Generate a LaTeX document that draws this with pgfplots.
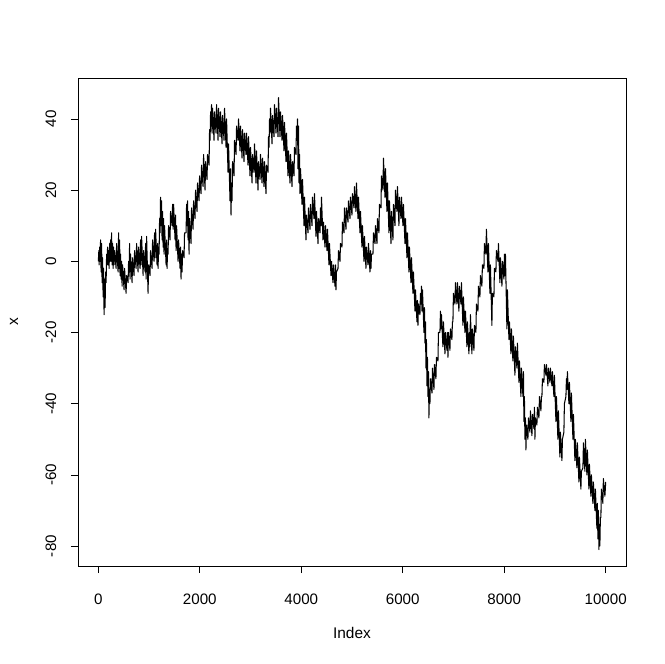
\documentclass[border=0pt]{standalone}
\usepackage{pgfplots}
\pgfplotsset{compat=1.18}
\usepackage{fontspec}
\setmainfont{Liberation Sans}
\begin{document}
\begin{tikzpicture}
\path[use as bounding box] (-78bp,-98bp) rectangle (587bp,566bp);
\begin{axis}[
  scale only axis, width=548bp, height=488bp,
  xmin=-399.96, xmax=10399.96, ymin=-85.6, ymax=51.5,
  scaled x ticks=false, scaled y ticks=false,
  xtick={0,2000,4000,6000,8000,10000},
  xticklabels={0,2000,4000,6000,8000,10000},
  ytick={-80,-60,-40,-20,0,20,40},
  yticklabels={-80,-60,-40,-20,0,20,40},
  tick align=outside, major tick length=7bp,
  xtick pos=bottom, ytick pos=left,
  tick style={black, line width=0.75bp},
  axis line style={black, line width=0.75bp},
  tick label style={font=\fontsize{15.2}{18}\selectfont, text=black},
  xticklabel style={anchor=center, yshift=-26bp},
  yticklabel style={rotate=90, anchor=center, yshift=20bp},
  label style={font=\fontsize{15.5}{18}\selectfont},
  xlabel={Index}, ylabel={x},
  xlabel style={at={(axis description cs:0.5,-0.1373)}, anchor=center},
  ylabel style={at={(axis description cs:-0.1168,0.5)}, anchor=center},
  clip=true,
]
\addplot[black, line width=1.05bp, line join=round, no markers] coordinates {
(1,0) (11,3) (16,-1) (26,4) (35,0) (45,6) (55,-3) (65,5) (75,-6) (85,1)
(95,-10) (105,-2) (114,-15) (124,-5) (134,-13) (144,-3) (154,-6) (164,2)
(173,-1) (183,4) (193,-1) (203,3) (213,-2) (223,5) (232,0) (242,6)
(252,0) (262,8) (272,-1) (282,5) (292,-2) (302,4) (311,-1) (321,3)
(351,-2) (361,5) (390,-3) (400,8) (410,-2) (420,6) (429,-4) (439,2)
(449,-5) (459,0) (469,-7) (479,-1) (508,-8) (518,-2) (548,-9) (558,-4)
(587,-6) (597,0) (607,-3) (617,5) (626,-5) (636,2) (666,-6) (676,1)
(705,-4) (715,3) (745,-2) (755,5) (784,-3) (794,4) (823,-2) (833,6)
(843,-1) (853,7) (883,-4) (893,3) (922,-3) (932,5) (942,-5) (952,7)
(981,-9) (991,-1) (1020,-4) (1030,3) (1060,-2) (1070,6) (1099,0) (1109,8)
(1119,1) (1129,9) (1158,-1) (1168,5) (1178,-2) (1188,4) (1198,2) (1208,12)
(1217,8) (1227,18) (1237,10) (1247,17) (1257,6) (1267,14) (1277,4) (1287,12)
(1296,2) (1306,10) (1336,-1) (1346,6) (1355,-2) (1365,3) (1375,2) (1385,10)
(1414,6) (1424,14) (1454,10) (1464,16) (1474,9) (1484,16) (1513,6) (1523,13)
(1533,3) (1543,10) (1572,0) (1582,6) (1611,-2) (1621,4) (1631,-5) (1641,2)
(1651,-3) (1661,3) (1690,1) (1700,8) (1730,8) (1740,16) (1749,10) (1759,17)
(1769,6) (1779,14) (1789,2) (1799,12) (1828,5) (1838,15) (1868,9) (1878,17)
(1907,12) (1917,20) (1946,14) (1956,22) (1986,17) (1996,24) (2025,19) (2035,27)
(2065,21) (2075,30) (2104,20) (2114,28) (2143,23) (2153,30) (2183,27) (2193,37)
(2203,34) (2213,42) (2222,38) (2232,44) (2242,36) (2252,43) (2281,34) (2291,42)
(2321,36) (2331,44) (2360,34) (2370,43) (2399,35) (2409,42) (2439,33) (2449,41)
(2478,34) (2488,43) (2518,32) (2528,40) (2557,25) (2567,33) (2596,17) (2606,26)
(2616,13) (2626,22) (2636,17) (2646,28) (2675,24) (2685,34) (2715,30) (2725,38)
(2754,34) (2764,40) (2793,31) (2803,38) (2833,29) (2843,37) (2872,28) (2882,36)
(2911,30) (2921,36) (2951,27) (2961,35) (2990,24) (3000,32) (3030,22) (3040,30)
(3069,25) (3079,33) (3108,22) (3118,31) (3148,20) (3158,28) (3187,23) (3197,30)
(3227,22) (3237,29) (3266,21) (3276,28) (3305,19) (3315,27) (3345,25) (3355,35)
(3365,32) (3375,40) (3384,36) (3394,43) (3424,33) (3434,41) (3463,35) (3473,44)
(3502,36) (3512,43) (3542,35) (3552,46) (3581,35) (3591,42) (3621,34) (3631,41)
(3660,31) (3670,39) (3699,28) (3709,36) (3739,24) (3749,31) (3778,22) (3788,30)
(3818,21) (3828,28) (3857,24) (3867,32) (3896,30) (3906,38) (3916,34) (3926,40)
(3936,26) (3946,38) (3956,22) (3966,30) (3975,19) (3985,26) (4015,16) (4025,23)
(4054,10) (4064,18) (4093,6) (4103,13) (4133,8) (4143,15) (4172,9) (4182,16)
(4212,10) (4222,18) (4251,12) (4261,19) (4290,7) (4300,14) (4330,5) (4340,12)
(4369,8) (4379,15) (4389,10) (4399,18) (4428,6) (4438,11) (4468,4) (4478,10)
(4507,3) (4517,9) (4546,-1) (4556,5) (4586,-4) (4596,0) (4625,-6) (4635,-1)
(4665,-7) (4675,-1) (4684,-8) (4694,-3) (4724,-2) (4734,3) (4763,0) (4773,5)
(4802,4) (4812,11) (4842,8) (4852,15) (4881,9) (4891,15) (4921,11) (4931,17)
(4960,12) (4970,18) (4999,13) (5009,19) (5039,15) (5049,21) (5078,14) (5088,22)
(5118,12) (5128,18) (5157,8) (5167,14) (5196,4) (5206,10) (5236,0) (5246,7)
(5275,-2) (5285,4) (5315,-1) (5325,5) (5354,-3) (5364,3) (5374,-2) (5384,2)
(5413,2) (5423,8) (5453,5) (5463,10) (5492,5) (5502,12) (5531,8) (5541,16)
(5571,15) (5581,24) (5610,20) (5620,29) (5650,18) (5660,26) (5689,14) (5699,22)
(5728,8) (5738,17) (5768,5) (5778,14) (5807,6) (5817,16) (5847,10) (5857,20)
(5886,14) (5896,21) (5925,10) (5935,18) (5965,12) (5975,18) (6004,10) (6014,16)
(6044,5) (6054,12) (6083,1) (6093,8) (6122,-3) (6132,4) (6162,-6) (6172,1)
(6201,-9) (6211,-3) (6241,-14) (6251,-8) (6280,-17) (6290,-11) (6300,-18) (6310,-12)
(6339,-15) (6349,-9) (6359,-12) (6369,-7) (6379,-14) (6389,-8) (6418,-20) (6428,-13)
(6438,-23) (6448,-17) (6457,-30) (6467,-22) (6477,-35) (6487,-27) (6497,-38) (6507,-31)
(6516,-44) (6526,-36) (6536,-40) (6546,-33) (6576,-37) (6586,-30) (6615,-36) (6625,-29)
(6654,-33) (6664,-27) (6694,-28) (6704,-20) (6733,-20) (6743,-14) (6753,-19) (6763,-15)
(6792,-24) (6802,-17) (6832,-26) (6842,-20) (6871,-25) (6881,-20) (6891,-27) (6901,-20)
(6930,-25) (6940,-19) (6969,-22) (6979,-17) (6989,-17) (6999,-9) (7029,-12) (7039,-6)
(7068,-12) (7078,-6) (7107,-14) (7117,-7) (7147,-12) (7157,-6) (7186,-18) (7196,-10)
(7226,-20) (7236,-14) (7265,-24) (7275,-17) (7304,-26) (7314,-20) (7324,-24) (7334,-15)
(7363,-26) (7373,-19) (7403,-25) (7413,-18) (7442,-20) (7452,-12) (7482,-14) (7492,-7)
(7521,-10) (7531,-4) (7560,-7) (7570,-1) (7600,-2) (7610,5) (7639,2) (7649,9)
(7679,-3) (7689,5) (7718,-9) (7728,-1) (7757,-18) (7767,-9) (7797,-10) (7807,-2)
(7836,-3) (7846,3) (7876,0) (7886,5) (7915,-6) (7925,1) (7955,-7) (7965,0)
(7994,-5) (8004,2) (8014,-4) (8024,2) (8053,-19) (8063,-8) (8093,-22) (8103,-17)
(8132,-26) (8142,-19) (8171,-28) (8181,-21) (8211,-32) (8221,-24) (8250,-30) (8260,-23)
(8290,-34) (8300,-28) (8329,-38) (8339,-30) (8369,-38) (8379,-31) (8388,-45) (8398,-38)
(8408,-50) (8418,-44) (8428,-53) (8438,-46) (8467,-50) (8477,-44) (8506,-48) (8516,-42)
(8546,-49) (8556,-43) (8585,-47) (8595,-41) (8605,-50) (8615,-44) (8644,-46) (8654,-41)
(8684,-44) (8694,-38) (8723,-42) (8733,-38) (8743,-38) (8753,-33) (8782,-34) (8792,-29)
(8822,-32) (8832,-29) (8861,-35) (8871,-30) (8900,-34) (8910,-30) (8940,-35) (8950,-31)
(8979,-38) (8989,-32) (9019,-45) (9029,-38) (9058,-50) (9068,-42) (9097,-55) (9107,-48)
(9137,-56) (9147,-50) (9176,-48) (9186,-40) (9216,-38) (9226,-33) (9235,-36) (9245,-31)
(9275,-40) (9285,-34) (9314,-45) (9324,-37) (9354,-50) (9364,-43) (9393,-56) (9403,-50)
(9432,-58) (9442,-51) (9472,-62) (9482,-55) (9511,-64) (9521,-59) (9551,-58) (9561,-51)
(9590,-59) (9600,-50) (9629,-60) (9639,-53) (9669,-64) (9679,-57) (9708,-66) (9718,-60)
(9747,-68) (9757,-62) (9787,-70) (9797,-64) (9826,-75) (9836,-68) (9846,-78) (9856,-70)
(9866,-81) (9876,-74) (9885,-80) (9895,-72) (9905,-72) (9915,-64) (9944,-68) (9954,-61)
(9984,-66) (10000,-62)
};
\end{axis}
\end{tikzpicture}
\end{document}
